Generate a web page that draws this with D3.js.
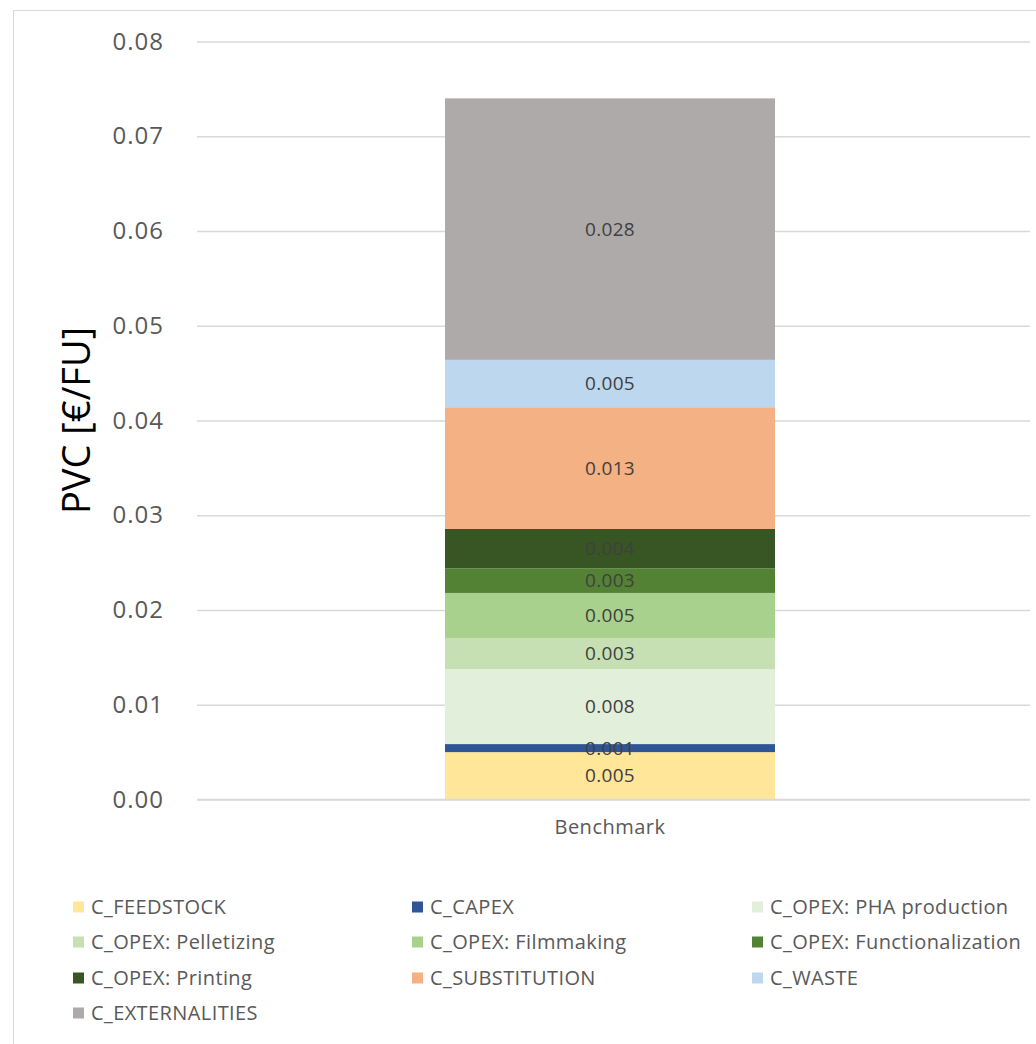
<!DOCTYPE html>
<html>
<head>
<meta charset="utf-8">
<script src="https://cdn.jsdelivr.net/npm/d3@7"></script>
<style>
  html, body { margin: 0; padding: 0; background: #fff; }
  svg { display: block; font-family: "Open Sans", "Noto Sans", sans-serif; }
</style>
</head>
<body>
<svg id="chart" width="1036" height="1044"></svg>
<script>
// Cost components of the benchmark product, bottom to top
const categories = ["Benchmark"];
const components = [
  "C_FEEDSTOCK",
  "C_CAPEX",
  "C_OPEX: PHA production",
  "C_OPEX: Pelletizing",
  "C_OPEX: Filmmaking",
  "C_OPEX: Functionalization",
  "C_OPEX: Printing",
  "C_SUBSTITUTION",
  "C_WASTE",
  "C_EXTERNALITIES"
];
const values = [0.0050, 0.00085, 0.0079, 0.0033, 0.00475, 0.0026, 0.00415, 0.01285, 0.0050, 0.0276];
const colors = ["#FFE699", "#2F5597", "#E2EFDA", "#C6E0B4", "#A9D18E", "#548235", "#375623", "#F4B183", "#BDD7EE", "#AEAAAA"];
const yTicks = [0, 0.01, 0.02, 0.03, 0.04, 0.05, 0.06, 0.07, 0.08];

const FONT = '"Open Sans", "Noto Sans", sans-serif';
const svg = d3.select("#chart");
const W = 1036, H = 1044;

// outer chart frame
svg.append("rect")
  .attr("x", 13.5).attr("y", 10.5)
  .attr("width", W).attr("height", H)
  .attr("fill", "none").attr("stroke", "#d9d9d9").attr("stroke-width", 1);

const plot = { left: 197, right: 1030, top: 41.5, bottom: 799.5 };

const y = d3.scaleLinear().domain([0, 0.08]).range([plot.bottom, plot.top]);
// single category: the bar occupies the middle part of the plot
const x = d3.scaleBand().domain(categories).range([445, 775]).padding(0);

// gridlines + tick labels
const yAxis = d3.axisLeft(y)
  .tickValues(yTicks)
  .tickSize(-(plot.right - plot.left))
  .tickPadding(33)
  .tickFormat(d3.format(".2f"));

const gy = svg.append("g").attr("transform", `translate(${plot.left},0)`).call(yAxis)
  .attr("font-family", FONT);
gy.select(".domain").remove();
gy.selectAll(".tick line").attr("stroke", "#d9d9d9").attr("stroke-width", 1.5);
gy.selectAll(".tick text")
  .attr("fill", "#595959")
  .attr("font-size", 24)
  .attr("letter-spacing", 1);

// y-axis title
svg.append("text")
  .attr("transform", `translate(90,${(plot.top + plot.bottom) / 2}) rotate(-90)`)
  .attr("text-anchor", "middle")
  .attr("font-size", 38)
  .attr("fill", "#000")
  .text("PVC [€/FU]");

// stacked segments
const rows = components.map((name, i) => ({ name, value: values[i], color: colors[i] }));
let acc = 0;
rows.forEach(r => { r.y0 = acc; acc += r.value; r.y1 = acc; });

const bx = x("Benchmark"), bw = x.bandwidth();

svg.append("g").selectAll("rect")
  .data(rows)
  .join("rect")
  .attr("x", bx)
  .attr("width", bw)
  .attr("y", d => y(d.y1))
  .attr("height", d => y(d.y0) - y(d.y1))
  .attr("fill", d => d.color);

// value labels
const fmt = d3.format(".3f");
svg.append("g").selectAll("text")
  .data(rows)
  .join("text")
  .attr("x", bx + bw / 2)
  .attr("y", d => (y(d.y0) + y(d.y1)) / 2)
  .attr("dy", "0.35em")
  .attr("text-anchor", "middle")
  .attr("font-size", 19)
  .attr("letter-spacing", 0.3)
  .attr("fill", "#404040")
  .text(d => fmt(d.value));

// category axis
const xAxis = d3.axisBottom(x).tickSize(0).tickPadding(20);
const gx = svg.append("g").attr("transform", `translate(0,${plot.bottom})`).call(xAxis)
  .attr("font-family", FONT);
gx.select(".domain").attr("stroke", "#d9d9d9").attr("stroke-width", 1.5)
  .attr("d", `M${plot.left},0H${plot.right}`);
gx.selectAll(".tick text").attr("fill", "#595959").attr("font-size", 20).attr("letter-spacing", 0.5);

// legend (3 columns, row-major order)
const legCols = [73, 412, 752];
const legRows = [907, 942, 978, 1013];
const legend = svg.append("g").selectAll("g")
  .data(rows)
  .join("g")
  .attr("transform", (d, i) => `translate(${legCols[i % 3]},${legRows[Math.floor(i / 3)]})`);
legend.append("rect")
  .attr("x", 0).attr("y", -5.5).attr("width", 11).attr("height", 11)
  .attr("fill", d => d.color);
legend.append("text")
  .attr("x", 18).attr("dy", "0.35em")
  .attr("font-size", 20)
  .attr("letter-spacing", 0.4)
  .attr("fill", "#595959")
  .text(d => d.name);
</script>
</body>
</html>
